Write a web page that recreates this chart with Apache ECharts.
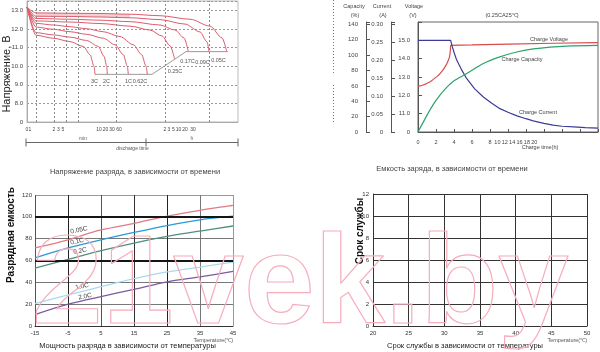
<!DOCTYPE html>
<html>
<head>
<meta charset="utf-8">
<script src="https://cdn.jsdelivr.net/npm/echarts@6/dist/echarts.min.js"></script>
<style>
  html, body { margin: 0; padding: 0; background: #fff; }
  #chart { width: 600px; height: 352px; }
</style>
</head>
<body>
<div id="chart"></div>
<script>
const FONT = 'Liberation Sans, Arial, sans-serif'

// ---- 1. напряжение разряда (время, В) ----
// ось времени нелинейная: положения подписей
const tLabels = ['0', '1', '2', '3', '5', '10', '20', '30', '60', '2', '3', '5', '10', '20', '30']
const tLabelPos = [0, 3, 27, 31.5, 36, 72, 78.5, 85, 92, 138, 142, 146.5, 151.5, 158, 166]
const tGridPos = [9, 27, 39, 51.3, 89.7, 138, 182]
const disNames = ['3C', '2C', '1C', '0.62C', '0.25C', '0.17C', '0.09C', '0.05C']
const dis3C = [[0, 13.17], [9, 11.66], [26.3, 11.5], [43, 11.32], [56.3, 11.06], [63, 10.62], [67, 10.0], [68, 9.56]]
const dis2C = [[0, 13.17], [9, 11.8], [26.3, 11.68], [43, 11.56], [59.7, 11.38], [71.3, 11.06], [77, 10.53], [79.7, 10.0], [80.3, 9.56]]
const dis1C = [[0, 13.17], [9, 12.1], [26.3, 11.98], [43, 11.85], [59.7, 11.71], [76.3, 11.5], [88, 11.15], [96.3, 10.62], [100.3, 10.0], [101.3, 9.56]]
const dis062C = [[0, 13.17], [9, 12.3], [26.3, 12.21], [43, 12.12], [59.7, 12.01], [76.3, 11.85], [93, 11.59], [106.3, 11.15], [114.7, 10.62], [119, 10.0], [120.3, 9.56]]
const dis025C = [[0, 13.17], [9, 12.43], [43, 12.37], [73, 12.29], [103, 12.15], [123, 11.94], [135, 11.62], [143, 11.1], [147.5, 10.4]]
const dis017C = [[0, 13.17], [9, 12.56], [43, 12.52], [73, 12.47], [103, 12.39], [133, 12.21], [148, 11.94], [157, 11.52], [161.3, 10.79]]
const dis009C = [[0, 13.17], [9, 12.68], [43, 12.67], [73, 12.64], [103, 12.6], [133, 12.5], [158, 12.26], [173, 11.84], [180, 11.31], [182, 10.79]]
const dis005C = [[0, 13.17], [9, 12.86], [43, 12.84], [73, 12.83], [103, 12.79], [133, 12.71], [163, 12.52], [183, 12.15], [195, 11.52], [199.7, 10.79]]
const disCurves = [dis3C, dis2C, dis1C, dis062C, dis025C, dis017C, dis009C, dis005C]
const cutoff = [[68, 9.56], [125, 9.56], [159, 10.78], [201, 10.78]]

// ---- 2. заряд (ч) ----
const hourTicks = [0, 2, 4, 6, 8, 10, 12, 14, 16, 18, 20]
const chgVolt = [
  [0, 12.49], [0.5, 12.55], [0.96, 12.64], [1.4, 12.76], [1.7, 12.87], [2.1, 13.02], [2.44, 13.18],
  [2.75, 13.36], [3.0, 13.55], [3.2, 13.72], [3.37, 13.91], [3.5, 14.1], [3.56, 14.28], [3.6, 14.5],
  [3.63, 14.73], [6, 14.75], [10, 14.79], [15, 14.84], [20, 14.88]
]
const chgCurr = [
  [0, 0.255], [3.63, 0.255], [3.8, 0.238], [4.0, 0.222], [4.3, 0.2], [4.8, 0.175], [5.4, 0.149],
  [6.3, 0.12], [7.26, 0.0975], [8.2, 0.08], [9.1, 0.065], [10, 0.055], [11, 0.045], [12, 0.037],
  [12.8, 0.031], [14, 0.024], [15, 0.019], [16, 0.016], [17.3, 0.014], [18.6, 0.012], [20, 0.011]
]
const chgCap = [[0, 0], [0.96, 21], [1.7, 36], [2.44, 48], [3.19, 58], [3.93, 66], [5.41, 76], [7.26, 89], [9.1, 97.6], [10.96, 104], [12.81, 108], [14.7, 110.4], [16.5, 111.6], [20, 112.5]]

// ---- 3. емкость от температуры ----
const temps = [-15, -5, 5, 15, 25, 35, 45]
const rateNames = ['0.05C', '0.1C', '0.2C', '1.0C', '2.0C']
const cap005 = [71.5, 79, 88, 94, 100.6, 106, 110.5]
const cap01 = [62.4, 71.5, 79, 85.7, 92, 97.3, 100.6]
const cap02 = [53, 61, 69, 76, 82, 87, 91.6]
const cap10 = [20.6, 28.5, 36, 43.3, 49.5, 54, 58.5]
const cap20 = [10.5, 20, 27, 33.6, 40.5, 45, 50]
const rateColors = ['#e07a86', '#2b9ad4', '#4f8f7f', '#a6dcee', '#7d5a9e']

// ---- 4. срок службы (пустая сетка) ----
const lifeData = []

// сжатые подписи 10..20 на оси заряда
function hourPos(h) {
  return h <= 8 ? h : 8 + (h - 8) * 0.41
}
function pick(vals, labels) {
  return function(v) {
    const i = vals.findIndex((p) => Math.abs(p - v) < 1e-6)
    return i < 0 ? '' : labels[i]
  }
}
function txt(x, y, text, size, o) {
  o = o || {}
  return {
    type: 'text', x: x, y: y, rotation: o.rot || 0, silent: true, z: o.z || 50,
    style: {
      text: text, fontSize: size, fontFamily: FONT, fontWeight: o.bold ? 'bold' : 'normal',
      fill: o.color || '#444', textAlign: o.align || 'center', textVerticalAlign: 'middle'
    }
  }
}
function line(x1, y1, x2, y2, color, dash) {
  return {
    type: 'line', silent: true, shape: { x1: x1, y1: y1, x2: x2, y2: y2 },
    style: { stroke: color, lineWidth: 1, lineDash: dash || null }
  }
}

const chart = echarts.init(document.getElementById('chart'))
const small = { fontSize: 6, color: '#444', fontFamily: FONT }

const series = []
disCurves.forEach((d, i) => {
  series.push({
    name: disNames[i], type: 'line', xAxisIndex: 0, yAxisIndex: 0, data: d,
    showSymbol: false, smooth: 0.3, smoothMonotone: 'x', silent: true,
    lineStyle: { color: '#e05a6b', width: 1 }
  })
})
series.push({
  type: 'line', xAxisIndex: 0, yAxisIndex: 0, data: cutoff, showSymbol: false, silent: true,
  lineStyle: { color: '#9a9a9a', width: 1 },
  markLine: {
    silent: true, symbol: 'none', label: { show: false },
    lineStyle: { color: '#8a8a8a', width: 1, type: [2, 2] },
    data: tGridPos.map((x) => ({ xAxis: x }))
  }
})
// заливка между 0.05C и 0.09C
series.push({
  type: 'custom', xAxisIndex: 0, yAxisIndex: 0, data: [0], silent: true, z: 1,
  renderItem: function(params, api) {
    const top = dis005C.filter((p) => p[0] >= 9 && p[0] <= 125)
    const bot = dis009C.filter((p) => p[0] >= 9 && p[0] <= 125).reverse()
    const pts = top.concat(bot).map((p) => api.coord(p))
    return { type: 'polygon', shape: { points: pts }, style: { fill: 'rgba(236,160,172,0.5)' } }
  }
})
series.push({
  name: 'Charge Voltage', type: 'line', xAxisIndex: 1, yAxisIndex: 1, data: chgVolt,
  showSymbol: false, silent: true, lineStyle: { color: '#d94a4a', width: 1.2 }
})
series.push({
  name: 'Charge Current', type: 'line', xAxisIndex: 1, yAxisIndex: 2, data: chgCurr,
  showSymbol: false, silent: true, lineStyle: { color: '#3c3c98', width: 1.2 }
})
series.push({
  name: 'Charge Capacity', type: 'line', xAxisIndex: 1, yAxisIndex: 3, data: chgCap,
  showSymbol: false, smooth: 0.3, silent: true, lineStyle: { color: '#2ba36c', width: 1.2 }
})
;[cap005, cap01, cap02, cap10, cap20].forEach((arr, i) => {
  series.push({
    name: rateNames[i], type: 'line', xAxisIndex: 2, yAxisIndex: 4,
    data: temps.map((t, k) => [t, arr[k]]), showSymbol: false, smooth: 0.3, silent: true,
    lineStyle: { color: rateColors[i], width: 1.3 },
    markLine: i === 0 ? {
      silent: true, symbol: 'none', label: { show: false },
      lineStyle: { color: '#151515', width: 1.8, type: 'solid' },
      data: [{ yAxis: 60 }, { yAxis: 100 }]
    } : undefined
  })
})
series.push({ type: 'line', xAxisIndex: 3, yAxisIndex: 5, data: lifeData, silent: true })

chart.setOption({
  animation: false,
  backgroundColor: '#fff',
  grid: [
    { left: 27, top: 1, width: 211, height: 121, show: true, borderColor: '#bbb', borderWidth: 1 },
    { left: 418, top: 22, width: 180, height: 110, show: true, borderColor: '#666', borderWidth: 1 },
    { left: 35, top: 195, width: 198, height: 131 },
    { left: 373, top: 194, width: 214, height: 132 }
  ],
  xAxis: [
    {
      gridIndex: 0, type: 'value', min: 0, max: 211,
      axisLine: { lineStyle: { color: '#aaa' } }, axisTick: { show: false }, splitLine: { show: false },
      axisLabel: Object.assign({
        customValues: tLabelPos, formatter: pick(tLabelPos, tLabels), margin: 5,
        showMinLabel: true, hideOverlap: false
      }, small, { fontSize: 5 })
    },
    {
      gridIndex: 1, type: 'value', min: 0, max: 20, interval: 2,
      axisLine: { lineStyle: { color: '#555' } },
      axisTick: { inside: true, length: 3, customValues: hourTicks, lineStyle: { color: '#555' } },
      splitLine: { show: false },
      axisLabel: Object.assign({
        customValues: hourTicks.map(hourPos),
        formatter: pick(hourTicks.map(hourPos), hourTicks.map(String)), margin: 7
      }, small, { fontSize: 5.5 })
    },
    {
      gridIndex: 2, type: 'value', min: -15, max: 45, interval: 10,
      axisLine: { lineStyle: { color: '#333' } }, axisTick: { show: false },
      splitLine: { lineStyle: { color: ['#555', '#222', '#555', '#333', '#222', '#777', '#999'] } },
      axisLabel: Object.assign({ margin: 4 }, small, { color: '#333' })
    },
    {
      gridIndex: 3, type: 'value', min: 20, max: 50, interval: 5,
      axisLine: { lineStyle: { color: '#333' } }, axisTick: { show: false },
      splitLine: { lineStyle: { color: '#333' } },
      axisLabel: Object.assign({ margin: 4 }, small, { color: '#333' })
    }
  ],
  yAxis: [
    {
      gridIndex: 0, type: 'value', min: 7, max: 13.5, interval: 1,
      axisLine: { show: true, lineStyle: { color: '#aaa' } }, axisTick: { show: false },
      splitLine: { lineStyle: { color: '#999', type: [2, 2] } },
      axisLabel: Object.assign({
        margin: 4,
        formatter: (v) => v === 7 ? '0' : Number.isInteger(v) ? v.toFixed(1) : ''
      }, small)
    },
    {
      gridIndex: 1, type: 'value', position: 'left', offset: 0, min: 10, max: 16, interval: 1,
      axisLine: { show: true, lineStyle: { color: '#555' } },
      axisTick: { show: true, inside: true, length: 4, lineStyle: { color: '#555' } },
      splitLine: { show: false },
      axisLabel: Object.assign({
        margin: 8,
        formatter: (v) => v === 10 ? '0' : v === 16 ? '' : v.toFixed(1)
      }, small)
    },
    {
      gridIndex: 1, type: 'value', position: 'left', offset: 27, min: 0, max: 0.306, interval: 0.05,
      axisLine: { show: true, lineStyle: { color: '#555' } },
      axisTick: { show: true, inside: true, length: 4, lineStyle: { color: '#555' } },
      splitLine: { show: false },
      axisLabel: Object.assign({
        margin: 8,
        formatter: (v) => {
          const k = Math.round(v / 0.05)
          if (Math.abs(v - k * 0.05) > 1e-6) return ''
          return k === 0 ? '0' : (k * 0.05).toFixed(2)
        }
      }, small)
    },
    {
      gridIndex: 1, type: 'value', position: 'left', offset: 52, min: 0, max: 143, interval: 20,
      axisLine: { show: true, lineStyle: { color: '#555' } },
      axisTick: { show: true, inside: true, length: 4, lineStyle: { color: '#555' } },
      splitLine: { show: false },
      axisLabel: Object.assign({ margin: 8, formatter: (v) => v % 20 === 0 ? String(v) : '' }, small)
    },
    {
      gridIndex: 2, type: 'value', min: 0, max: 120, interval: 20,
      axisLine: { show: false }, axisTick: { show: false },
      splitLine: { lineStyle: { color: ['#555', '#777', '#777', '#222', '#777', '#222', '#999'] } },
      axisLabel: Object.assign({ margin: 3 }, small, { color: '#333' })
    },
    {
      gridIndex: 3, type: 'value', min: 0, max: 12, interval: 2,
      axisLine: { show: true, lineStyle: { color: '#333' } }, axisTick: { show: false },
      splitLine: { lineStyle: { color: '#333' } },
      axisLabel: Object.assign({ margin: 4 }, small, { color: '#333' })
    }
  ],
  series: series,
  graphic: [
    // панель 1
    txt(7, 74, 'Напряжение, В', 11, { rot: Math.PI / 2, color: '#222' }),
    txt(94.5, 81, '3C', 5.5, { color: '#555' }),
    txt(106.5, 81, '2C', 5.5, { color: '#555' }),
    txt(128.5, 81, '1C', 5.5, { color: '#555' }),
    txt(140, 81, '0.62C', 5.5, { color: '#555' }),
    txt(175, 71, '0.25C', 5.5, { color: '#555' }),
    txt(187.5, 61, '0.17C', 5.5, { color: '#555' }),
    txt(202.5, 62, '0.09C', 5.5, { color: '#555' }),
    txt(218.5, 60, '0.05C', 5.5, { color: '#555' }),
    line(26, 142.5, 238, 142.5, '#666'),
    line(26, 138.5, 26, 146.5, '#666'),
    line(146, 138.5, 146, 146.5, '#666'),
    line(238, 138.5, 238, 146.5, '#666'),
    txt(83, 139, 'min', 5, { color: '#666' }),
    txt(192, 139, 'h', 5, { color: '#666' }),
    txt(132.5, 148.5, 'discharge time', 5, { color: '#555' }),
    txt(135, 172, 'Напряжение разряда, в зависимости от времени', 7.5, { color: '#444' }),
    // панель 2
    line(333.5, 0, 333.5, 73, '#777', [1, 2]),
    line(333.5, 85, 333.5, 122, '#777', [1, 2]),
    txt(354, 6, 'Capacity', 5.5), txt(355, 15, '(%)', 5.5),
    txt(382, 6, 'Current', 5.5), txt(383, 15, '(A)', 5.5),
    txt(414, 6, 'Voltage', 5.5), txt(413, 15, '(V)', 5.5),
    txt(502, 15, '(0.25CA25℃)', 5.5),
    txt(549, 39.5, 'Charge Voltage', 5.5),
    txt(522, 59.5, 'Charge Capacity', 5.5),
    txt(538, 112.5, 'Charge Current', 5.5),
    txt(540, 147.5, 'Charge time(h)', 5.5),
    txt(452, 168.5, 'Емкость заряда, в зависимости от времени', 7.5, { color: '#444' }),
    // панель 3
    txt(11, 235, 'Разрядная емкость', 10, { rot: Math.PI / 2, bold: true, color: '#111' }),
    txt(79, 230, '0.05C', 6.5, { rot: 0.2, color: '#444' }),
    txt(77, 241.5, '0.1C', 6.5, { rot: 0.2, color: '#444' }),
    txt(80, 251, '0.2C', 6.5, { rot: 0.2, color: '#444' }),
    txt(82, 286.5, '1.0C', 6.5, { rot: 0.2, color: '#444' }),
    txt(85, 296.5, '2.0C', 6.5, { rot: 0.2, color: '#444' }),
    txt(233, 340, 'Temperature(℃)', 5.5, { align: 'right', color: '#555' }),
    txt(127.5, 346, 'Мощность разряда в зависимости от температуры', 7.5, { color: '#222' }),
    // панель 4
    txt(360, 231, 'Срок службы', 10, { rot: Math.PI / 2, bold: true, color: '#111' }),
    txt(587, 340, 'Temperature(℃)', 5.5, { align: 'right', color: '#555' }),
    txt(465, 346, 'Срок службы в зависимости от температуры', 7.5, { color: '#222' }),
    // водяной знак
    {
      type: 'text', x: 32, y: 288, silent: true, z: 100,
      style: {
        text: '21vek.by', fontSize: 127, fontWeight: 'bold', fontFamily: FONT,
        fill: 'rgba(0,0,0,0)', stroke: '#f6aebd', lineWidth: 1.2,
        textAlign: 'left', textVerticalAlign: 'middle'
      }
    }
  ]
})
</script>
</body>
</html>
